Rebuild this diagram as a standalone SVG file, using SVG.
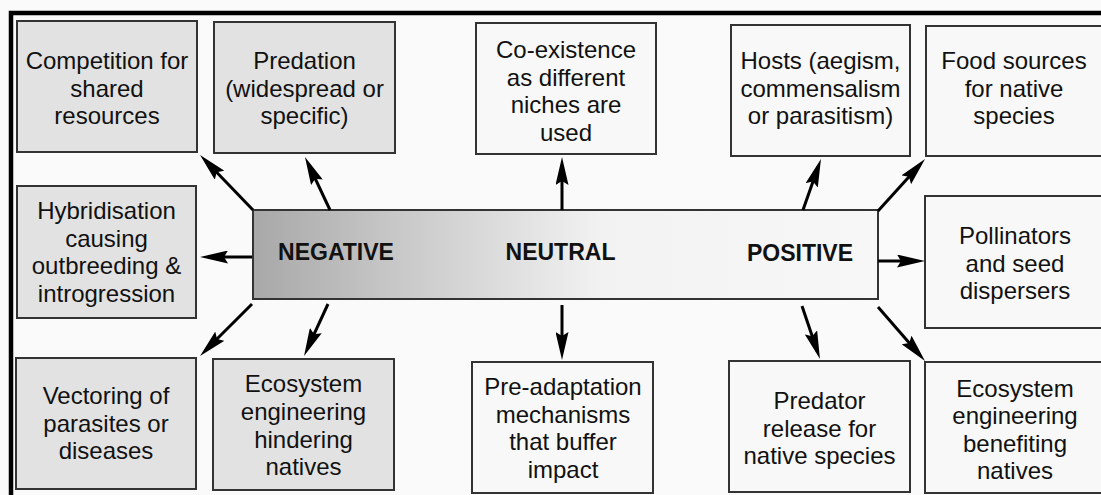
<svg xmlns="http://www.w3.org/2000/svg" width="1101" height="495" viewBox="0 0 1101 495">
<defs>
<linearGradient id="barGrad" gradientUnits="userSpaceOnUse" x1="253" y1="0" x2="878" y2="0">
<stop offset="0" stop-color="#a8a8a8"/>
<stop offset="0.2" stop-color="#c4c4c4"/>
<stop offset="0.45" stop-color="#e4e4e4"/>
<stop offset="0.56" stop-color="#f2f2f2"/>
<stop offset="1" stop-color="#f7f7f7"/>
</linearGradient>
<marker id="ah" markerUnits="userSpaceOnUse" markerWidth="28" markerHeight="13" viewBox="0 0 28 13" refX="20" refY="6.5" orient="auto">
<path d="M0,0 L28,6.5 L0,13 L4,6.5 z" fill="#000"/>
</marker>
<style>
.neg{fill:#e2e2e2;stroke:#333;stroke-width:2}
.pos{fill:#f8f8f8;stroke:#333;stroke-width:2}
.t{font-family:"Liberation Sans",Arial,sans-serif;font-size:24px;fill:#111;text-anchor:middle}
.h{font-family:"Liberation Sans",Arial,sans-serif;font-size:23px;font-weight:bold;fill:#111;text-anchor:middle}
.c line{stroke:#000;stroke-width:3;marker-end:url(#ah)}
</style>
</defs>
<rect x="0" y="0" width="1101" height="495" fill="#fafafa"/>
<path d="M11,495 V13 H1101" fill="none" stroke="#000" stroke-width="4.5"/>

<g id="competition"><rect class="neg" x="17" y="21" width="180" height="131"/>
<text class="t" x="107"><tspan x="107" y="69">Competition for</tspan><tspan x="107" y="96.5">shared</tspan><tspan x="107" y="124">resources</tspan></text></g>

<g id="predation"><rect class="neg" x="214" y="22" width="181" height="131"/>
<text class="t"><tspan x="304.5" y="69">Predation</tspan><tspan x="304.5" y="96.5">(widespread or</tspan><tspan x="304.5" y="124">specific)</tspan></text></g>

<g id="coexistence"><rect class="pos" x="476" y="23" width="180" height="131"/>
<text class="t"><tspan x="566" y="58">Co-existence</tspan><tspan x="566" y="85.5">as different</tspan><tspan x="566" y="113">niches are</tspan><tspan x="566" y="140.5">used</tspan></text></g>

<g id="hosts"><rect class="pos" x="731" y="25" width="179" height="131"/>
<text class="t"><tspan x="820.5" y="69">Hosts (aegism,</tspan><tspan x="820.5" y="96.5">commensalism</tspan><tspan x="820.5" y="124">or parasitism)</tspan></text></g>

<g id="food"><rect class="pos" x="926" y="26" width="180" height="130"/>
<text class="t"><tspan x="1014" y="69">Food sources</tspan><tspan x="1014" y="96.5">for native</tspan><tspan x="1014" y="124">species</tspan></text></g>

<g id="hybridisation"><rect class="neg" x="17" y="186" width="179" height="132"/>
<text class="t"><tspan x="106.5" y="219">Hybridisation</tspan><tspan x="106.5" y="246.5">causing</tspan><tspan x="106.5" y="274">outbreeding &amp;</tspan><tspan x="106.5" y="301.5">introgression</tspan></text></g>

<g id="bar"><rect x="253" y="210" width="625" height="89" fill="url(#barGrad)" stroke="#333" stroke-width="2"/>
<text class="h" x="336" y="260">NEGATIVE</text>
<text class="h" x="560.5" y="260">NEUTRAL</text>
<text class="h" x="800" y="261">POSITIVE</text></g>

<g id="pollinators"><rect class="pos" x="925" y="196" width="181" height="132"/>
<text class="t"><tspan x="1015" y="244">Pollinators</tspan><tspan x="1015" y="271.5">and seed</tspan><tspan x="1015" y="299">dispersers</tspan></text></g>

<g id="vectoring"><rect class="neg" x="16" y="358" width="180" height="131"/>
<text class="t"><tspan x="106" y="404">Vectoring of</tspan><tspan x="106" y="431.5">parasites or</tspan><tspan x="106" y="459">diseases</tspan></text></g>

<g id="eco-hinder"><rect class="neg" x="213" y="359" width="181" height="131"/>
<text class="t"><tspan x="303.5" y="392">Ecosystem</tspan><tspan x="303.5" y="420">engineering</tspan><tspan x="303.5" y="447.5">hindering</tspan><tspan x="303.5" y="475">natives</tspan></text></g>

<g id="preadaptation"><rect class="pos" x="472" y="362" width="181" height="131"/>
<text class="t"><tspan x="563" y="395">Pre-adaptation</tspan><tspan x="563" y="422.5">mechanisms</tspan><tspan x="563" y="450">that buffer</tspan><tspan x="563" y="477.5">impact</tspan></text></g>

<g id="predator-release"><rect class="pos" x="729" y="361" width="181" height="131"/>
<text class="t"><tspan x="819.5" y="409">Predator</tspan><tspan x="819.5" y="436.5">release for</tspan><tspan x="819.5" y="464">native species</tspan></text></g>

<g id="eco-benefit"><rect class="pos" x="925" y="362" width="181" height="131"/>
<text class="t"><tspan x="1015" y="396.5">Ecosystem</tspan><tspan x="1015" y="424">engineering</tspan><tspan x="1015" y="451.5">benefiting</tspan><tspan x="1015" y="479">natives</tspan></text></g>

<g id="connectors" class="c">
<line x1="253" y1="210" x2="205.6" y2="160.8"/>
<line x1="330" y1="210" x2="308.4" y2="164.2"/>
<line x1="252" y1="257" x2="208" y2="257"/>
<line x1="252" y1="304" x2="205.7" y2="350.3"/>
<line x1="328" y1="304" x2="307.4" y2="348.7"/>
<line x1="562" y1="210" x2="562" y2="165"/>
<line x1="562" y1="305" x2="562" y2="352"/>
<line x1="803" y1="210" x2="818.3" y2="166.5"/>
<line x1="878" y1="211" x2="919.7" y2="165"/>
<line x1="878" y1="261" x2="917" y2="261"/>
<line x1="802" y1="306" x2="817.4" y2="351.4"/>
<line x1="878" y1="307" x2="919.75" y2="355"/>
</g>
</svg>
